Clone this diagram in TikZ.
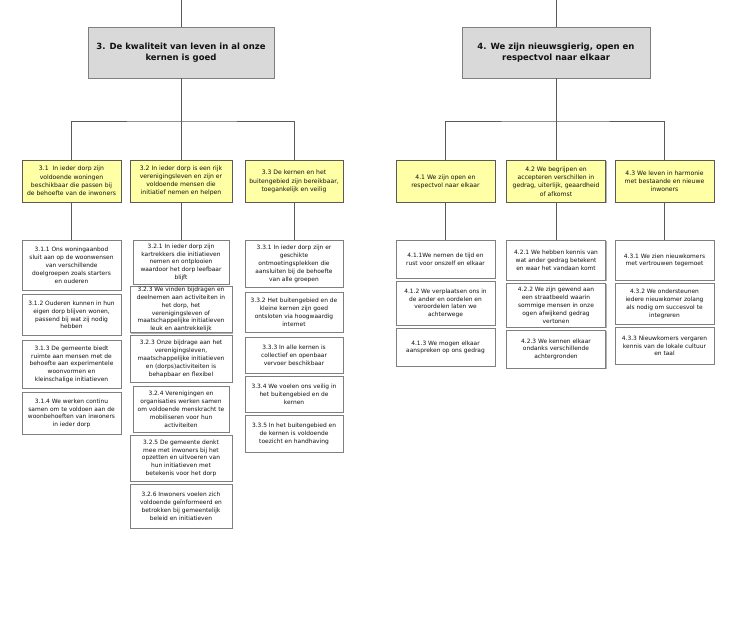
\documentclass[tikz,border=0pt]{standalone}
\usepackage{fontspec}
\setmainfont{DejaVu Sans}
\usetikzlibrary{shadows}
\definecolor{planInk}{HTML}{111111}
\definecolor{planLine}{HTML}{5A5A5A}
\definecolor{planEdge}{HTML}{7F7F7F}
\definecolor{planGoal}{HTML}{D9D9D9}
\definecolor{planSub}{HTML}{FFFFA6}
\tikzset{
  every picture/.style={text=planInk},
  plan shade/.style={drop shadow={shadow xshift=1pt,shadow yshift=-1pt,fill=black!30,opacity=1}},
  plan goal/.style={draw=planEdge, line width=0.8pt, fill=planGoal, plan shade,
    align=center, minimum width=186, minimum height=51, inner sep=2pt,
    font=\fontsize{8.5}{10.5}\selectfont\bfseries},
  plan sub/.style={draw=planLine, line width=0.7pt, fill=planSub, plan shade,
    align=center, minimum width=99, minimum height=42, inner sep=1pt,
    font=\fontsize{6.1}{8.2}\selectfont},
  plan act/.style={draw=planEdge, line width=0.7pt, fill=white, plan shade,
    align=center, minimum width=99, anchor=north, inner xsep=1pt, inner ysep=0.5pt,
    font=\fontsize{5.9}{7.9}\selectfont},
  plan link/.style={draw=planLine, line width=0.6pt}
}
\begin{document}
\begin{tikzpicture}[x=1pt,y=-1pt]
  \useasboundingbox (0,0) rectangle (735,620);
  % goals
  \node[plan goal] (g3) at (181,52.5) {3. De kwaliteit van leven in al onze\\kernen is goed};
  \node[plan goal,minimum width=188] (g4) at (556,52.5) {4. We zijn nieuwsgierig, open en\\respectvol naar elkaar};
  \coordinate (top3) at (181,0);
  \coordinate (top4) at (556,0);
  \coordinate (bar3) at (181,121);
  \coordinate (bar4) at (556,121);
  % sub goals
  \node[plan sub] (s31) at (71.5,181) {3.1\ \ In ieder dorp zijn\\voldoende woningen\\beschikbaar die passen bij\\de behoefte van de inwoners};
  \node[plan sub,minimum width=102] (s32) at (181,181) {3.2 In ieder dorp is een rijk\\verenigingsleven en zijn er\\voldoende mensen die\\initiatief nemen en helpen};
  \node[plan sub,minimum width=98] (s33) at (294,181.5) {3.3 De kernen en het\\buitengebied zijn bereikbaar,\\toegankelijk en veilig};
  \node[plan sub] (s41) at (445.5,181.5) {4.1 We zijn open en\\respectvol naar elkaar};
  \node[plan sub] (s42) at (556,181.5) {4.2 We begrijpen en\\accepteren verschillen in\\gedrag, uiterlijk, geaardheid\\of afkomst};
  \node[plan sub] (s43) at (664.5,181.5) {4.3 We leven in harmonie\\met bestaande en nieuwe\\inwoners};
  % column 3.1
  \node[plan act,minimum height=50] (a311) at (71.5,240) {3.1.1 Ons woningaanbod\\sluit aan op de woonwensen\\van verschillende\\doelgroepen zoals starters\\en ouderen};
  \node[plan act,minimum height=41] (a312) at (71.5,294) {3.1.2 Ouderen kunnen in hun\\eigen dorp blijven wonen,\\passend bij wat zij nodig\\hebben};
  \node[plan act,minimum height=48] (a313) at (71.5,340) {3.1.3 De gemeente biedt\\ruimte aan mensen met de\\behoefte aan experimentele\\woonvormen en\\kleinschalige initiatieven};
  \node[plan act,minimum height=42] (a314) at (71.5,392) {3.1.4 We werken continu\\samen om te voldoen aan de\\woonbehoeften van inwoners\\in ieder dorp};
  % column 3.2
  \node[plan act,minimum width=96,minimum height=44] (a321) at (181,240) {3.2.1 In ieder dorp zijn\\kartrekkers die initiatieven\\nemen en ontplooien\\waardoor het dorp leefbaar\\blijft};
  \node[plan act,minimum width=102,minimum height=46] (a322) at (181,286) {3.2.3 We vinden bijdragen en\\deelnemen aan activiteiten in\\het dorp, het\\verenigingsleven of\\maatschappelijke initiatieven\\leuk en aantrekkelijk};
  \node[plan act,minimum width=102,minimum height=47] (a323) at (181,335) {3.2.3 Onze bijdrage aan het\\verenigingsleven,\\maatschappelijke initiatieven\\en (dorps)activiteiten is\\behapbaar en flexibel};
  \node[plan act,minimum width=96,minimum height=46] (a324) at (181,386) {3.2.4 Verenigingen en\\organisaties werken samen\\om voldoende menskracht te\\mobiliseren voor hun\\activiteiten};
  \node[plan act,minimum width=102,minimum height=46] (a325) at (181,435) {3.2.5 De gemeente denkt\\mee met inwoners bij het\\opzetten en uitvoeren van\\hun initiatieven met\\betekenis voor het dorp};
  \node[plan act,minimum width=102,minimum height=44] (a326) at (181,484) {3.2.6 Inwoners voelen zich\\voldoende geïnformeerd en\\betrokken bij gemeentelijk\\beleid en initiatieven};
  % column 3.3
  \node[plan act,minimum width=98,minimum height=47] (a331) at (294,240) {3.3.1 In ieder dorp zijn er\\geschikte\\ontmoetingsplekken die\\aansluiten bij de behoefte\\van alle groepen};
  \node[plan act,minimum width=98,minimum height=40] (a332) at (294,292) {3.3.2 Het buitengebied en de\\kleine kernen zijn goed\\ontsloten via hoogwaardig\\internet};
  \node[plan act,minimum width=98,minimum height=36] (a333) at (294,337) {3.3.3 In alle kernen is\\collectief en openbaar\\vervoer beschikbaar};
  \node[plan act,minimum width=98,minimum height=36] (a334) at (294,376) {3.3.4 We voelen ons veilig in\\het buitengebied en de\\kernen};
  \node[plan act,minimum width=98,minimum height=37] (a335) at (294,415) {3.3.5 In het buitengebied en\\de kernen is voldoende\\toezicht en handhaving};
  % column 4.1
  \node[plan act,minimum height=38] (a411) at (445.5,240) {4.1.1We nemen de tijd en\\rust voor onszelf en elkaar};
  \node[plan act,minimum height=44] (a412) at (445.5,281) {4.1.2 We verplaatsen ons in\\de ander en oordelen en\\veroordelen laten we\\achterwege};
  \node[plan act,minimum height=38] (a413) at (445.5,328) {4.1.3 We mogen elkaar\\aanspreken op ons gedrag};
  % column 4.2
  \node[plan act,minimum height=40] (a421) at (556,240) {4.2.1 We hebben kennis van\\wat ander gedrag betekent\\en waar het vandaan komt};
  \node[plan act,minimum height=44] (a422) at (556,283) {4.2.2 We zijn gewend aan\\een straatbeeld waarin\\sommige mensen in onze\\ogen afwijkend gedrag\\vertonen};
  \node[plan act,minimum height=38] (a423) at (556,330) {4.2.3 We kennen elkaar\\ondanks verschillende\\achtergronden};
  % column 4.3
  \node[plan act,minimum height=40] (a431) at (664.5,240) {4.3.1 We zien nieuwkomers\\met vertrouwen tegemoet};
  \node[plan act,minimum height=41] (a432) at (664.5,283) {4.3.2 We ondersteunen\\iedere nieuwkomer zolang\\als nodig om succesvol te\\integreren};
  \node[plan act,minimum height=37] (a433) at (664.5,327) {4.3.3 Nieuwkomers vergaren\\kennis van de lokale cultuur\\en taal};
  % links
  \draw[plan link] (top3) -- (g3);
  \draw[plan link] (top4) -- (g4);
  \draw[plan link] (g3) -- (s32);
  \draw[plan link] (g4) -- (s42);
  \draw[plan link] (s31) |- (bar3) -| (s33);
  \draw[plan link] (s41) |- (bar4) -| (s43);
  \foreach \s/\a in {s31/a311,s32/a321,s33/a331,s41/a411,s42/a421,s43/a431}
    \draw[plan link] (\s) -- (\a);
\end{tikzpicture}
\end{document}
